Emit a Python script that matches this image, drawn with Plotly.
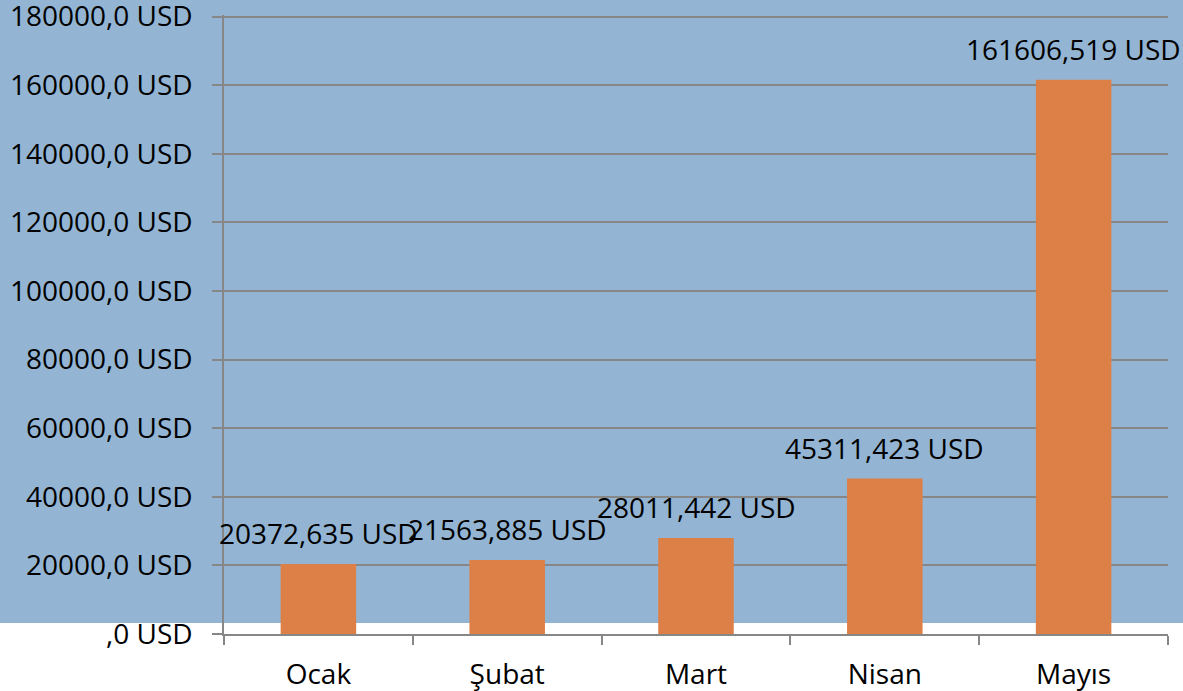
import plotly.graph_objects as go

months = ["Ocak", "Şubat", "Mart", "Nisan", "Mayıs"]
values = [20372.635, 21563.885, 28011.442, 45311.423, 161606.519]
y_ticks = [0, 20000, 40000, 60000, 80000, 100000, 120000, 140000, 160000, 180000]
y_tick_text = [(f"{v}" if v else "") + ",0 USD" for v in y_ticks]
labels = [f"{v:.3f}".replace(".", ",") + " USD" for v in values]

FONT = "Open Sans"
FS = 28
BLUE = "#93B5D3"
GRID = "#878787"

fig = go.Figure(go.Bar(
    x=months, y=values,
    marker=dict(color="#DD8047", line=dict(width=0)),
    width=0.4, cliponaxis=False,
))

annotations = [dict(x=m, y=v, text=t, showarrow=False, xref="x", yref="y",
                    yanchor="bottom", yshift=10,
                    font=dict(family=FONT, size=FS, color="black"))
               for m, v, t in zip(months, values, labels)]

fig.update_layout(
    width=1183, height=691,
    margin=dict(l=224, r=15, t=15, b=57, autoexpand=False),
    paper_bgcolor=BLUE, plot_bgcolor="rgba(0,0,0,0)",
    showlegend=False,
    font=dict(family=FONT, size=FS, color="black"),
    annotations=annotations,
    shapes=[dict(type="rect", xref="paper", yref="paper",
                 x0=-0.5, x1=1.5, y0=-0.2, y1=0.0178,
                 fillcolor="white", line=dict(width=0), layer="below")],
)
fig.update_yaxes(
    range=[0, 180450], tickvals=y_ticks, ticktext=y_tick_text,
    showgrid=True, gridcolor=GRID, gridwidth=1.5,
    showline=True, linecolor=GRID, linewidth=1.5,
    ticks="outside", ticklen=10, tickcolor=GRID, tickwidth=1.5,
    ticklabelstandoff=14, zeroline=False, automargin=False,
    ticklabeloverflow="allow",
    tickfont=dict(family=FONT, size=FS, color="black"),
)
fig.update_xaxes(
    range=[-0.5, 4.5],
    showline=True, linecolor=GRID, linewidth=1.5,
    ticks="outside", tickson="boundaries", ticklen=9, tickcolor=GRID, tickwidth=1.5,
    showgrid=False, ticklabelstandoff=15, automargin=False,
    ticklabeloverflow="allow",
    tickfont=dict(family=FONT, size=FS, color="black"),
)

fig.write_html("out.html", config={"displayModeBar": False},
               post_script="document.body.style.margin='0';document.body.style.padding='0';")
